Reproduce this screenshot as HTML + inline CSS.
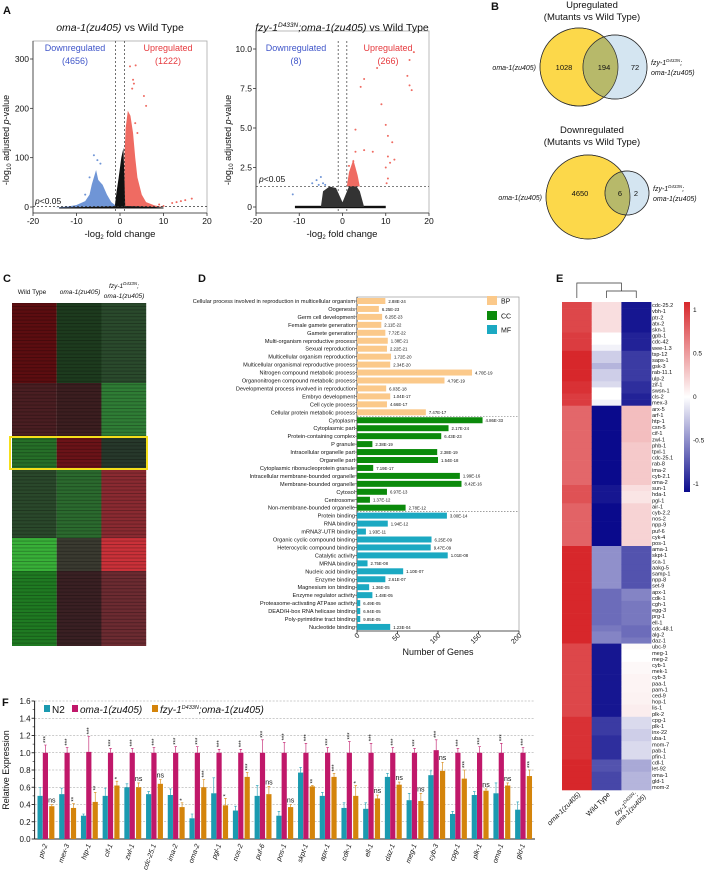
<!DOCTYPE html>
<html><head><meta charset="utf-8"><style>
html,body{margin:0;padding:0;background:#fff;}
svg{display:block;font-family:"Liberation Sans",sans-serif;}
.it{font-style:italic}
</style></head><body>
<svg id="fig" width="708" height="872" viewBox="0 0 708 872" xmlns="http://www.w3.org/2000/svg">
<g id="gA"></g>
<g id="gB"></g>
<g id="gC"></g>
<g id="gD"></g>
<g id="gE"></g>
<g id="gF"></g>
</svg>
<script>
// ---------- DATA ----------
const v1BlueCloud=[[-15,-1],[-12,1],[-10,4],[-8,12],[-7,25],[-6.5,45],[-6,60],[-5.5,75],[-5,55],[-4.5,50],[-4,45],[-3,25],[-2,10],[-1,3],[-1,-1]];
const v1BlackCloud=[[-14,-3],[-14,-1],[-8,0],[-1.2,1],[-0.8,30],[-0.3,60],[0.3,100],[0.8,120],[1,60],[1.2,2],[8,0],[10,-1],[10,-3]];
const v1RedCloud=[[1,0],[1,100],[1.3,160],[1.8,195],[2.4,185],[3,150],[3.5,100],[4,60],[5,25],[6,10],[8,3],[10,0]];
const v1RedPts=[[2.3,285],[3.6,287],[3,258],[3.2,250],[2.8,240],[5.5,225],[6,205],[4,150],[3.5,170],[12,8],[13,10],[14,12],[15,14],[16.5,17],[10,2],[9,5]];
const v1BluePts=[[-6,105],[-5.2,95],[-4.5,88],[-7,60],[-8,25]];
const v2BlackCloud=[[-5,0],[-4.5,1],[-3,1.3],[-1.5,1.2],[0,0.3],[1.5,1.3],[3,1.4],[4,1],[5,0]];
const v2RedCloud=[[1,1.3],[1.5,2.2],[2.5,3],[3.5,2],[4,1.3]];
const v2RedPts=[[3,4.9],[4.2,7.6],[5,8.1],[15.5,9.3],[16.5,9.8],[3,3.5],[5,3.6],[8,8.8],[9,6.5],[10,5.2],[10.5,4.5],[11.5,4.1],[10.5,3.2],[10,2.5],[11,2.8],[12,3],[7,3.5],[15,8.3],[16,7.4],[15.5,7.7],[10.5,1.8],[10.2,1.5],[1.5,2.6],[2.5,2.9],[2,2.3]];
const v2BluePts=[[-5,1.9],[-6,1.7],[-4.5,1.5],[-5.5,1.4],[-4,1.4],[-7,1.5],[-11.5,0.8]];
const v2BlackBand=[-11,10];

const goTerms=["Cellular process involved in reproduction in multicellular organism","Oogenesis","Germ cell development","Female gamete generation","Gamete generation","Multi-organism reproductive process","Sexual reproduction","Multicellular organism reproduction","Multicellular organismal reproductive process","Nitrogen compound metabolic process","Organonitrogen compound metabolic process","Developmental process involved in reproduction","Embryo development","Cell cycle process","Cellular protein metabolic process",
"Cytoplasm","Cytoplasmic part","Protein-containing complex","P granule","Intracellular organelle part","Organelle part","Cytoplasmic ribonucleoprotein granule","Intracellular membrane-bounded organelle","Membrane-bounded organelle","Cytosol","Centrosome","Non-membrane-bounded organelle",
"Protein binding","RNA binding","mRNA3'-UTR binding","Organic cyclic compound binding","Heterocyclic compound binding","Catalytic activity","MRNA binding","Nucleic acid binding","Enzyme binding","Magnesium ion binding","Enzyme regulator activity","Proteasome-activating ATPase activity","DEAD/H-box RNA helicase binding","Poly-pyrimidine tract binding","Nucleotide binding"];
const goCounts=[35,27,31,30,35,38,37,42,41,142,108,36,41,37,85, 155,113,104,19,99,100,20,127,129,37,16,60, 111,38,11,92,91,112,13,57,35,15,19,4,4,4,41];
const goCat=["BP","BP","BP","BP","BP","BP","BP","BP","BP","BP","BP","BP","BP","BP","BP","CC","CC","CC","CC","CC","CC","CC","CC","CC","CC","CC","CC","MF","MF","MF","MF","MF","MF","MF","MF","MF","MF","MF","MF","MF","MF","MF"];
const goP=["2.88E-24","6.25E-23","6.25E-23","2.11E-22","7.72E-22","1.38E-21","2.22E-21","1.72E-20","2.34E-20","4.70E-19","4.79E-19","6.03E-18","1.04E-17","4.66E-17","7.47E-17","4.86E-33","2.17E-24","6.43E-23","2.38E-19","2.38E-19","1.54E-18","7.19E-17","1.99E-16","8.42E-16","6.97E-13","1.37E-12","2.78E-12","3.00E-14","1.94E-12","1.93E-11","6.25E-09","9.47E-09","1.01E-08","2.75E-08","1.10E-07","2.61E-07","1.36E-05","1.48E-05","6.49E-05","6.94E-05","9.85E-05","1.23E-04"];
const goTicks=[0,50,100,150,200];

const eGenes=["cdc-25.2","vbh-1","ptr-2","atx-2","skn-1","gpb-1","cdc-42","wee-1.3","tsp-12","saps-1","gsk-3","rab-11.1","ulp-2","zif-1","swsn-1","cls-2","mex-3",
"arx-5","arf-1","htp-1","csn-5","cif-1","zwl-1","phb-1","tpxl-1","cdc-25.1","rab-8","ima-2","cyb-2.1","oma-2","sun-1","hda-1","pgl-1","air-1","cyb-2.2","nos-2","npp-9","puf-6","cyk-4","pos-1",
"ama-1","skpt-1","sca-1","aakg-5","samp-1","npp-8","set-9","apx-1","cdk-1","cgh-1","egg-3","prg-1","ell-1","cdc-48.1","alg-2","daz-1",
"ubc-9","meg-1","meg-2","cyb-1","mek-1","cyb-3","paa-1","pam-1","ced-9","hop-1","lis-1","plk-2",
"cpg-1","plk-1","inx-22","uba-1","mom-7","pab-1","pfin-1","cdl-1","let-92","oma-1","gld-1","mom-2"];
const eOma=[.85,.85,.85,.85,.85,.9,.9,.9,1,1,1,1,1,.95,.95,.9,.9,
.7,.7,.7,.7,.7,.7,.7,.7,.7,.7,.7,.7,.7,.8,.8,.8,.72,.72,.72,.72,.72,.72,.72,
1,1,1,1,1,1,1,1,1,1,1,1,1,1,1,1,
.85,.85,.85,.85,.85,.85,.85,.85,.85,.85,.85,.85,
.95,.95,.95,.95,.95,.95,.95,1,1,1,1,1];
const eWT=[.15,.15,.15,.15,.15,0,0,-.05,-.2,-.2,-.3,-.2,-.2,-.15,0,0,-.05,
-1,-1,-1,-1,-1,-1,-1,-1,-1,-1,-1,-1,-1,-.95,-.95,-.95,-1,-1,-1,-1,-1,-1,-1,
-.45,-.45,-.45,-.45,-.45,-.45,-.45,-.6,-.6,-.6,-.6,-.6,-.6,-.55,-.5,-.5,
-.95,-.95,-.95,-.95,-.95,-.95,-.95,-.95,-.95,-.95,-.95,-.95,
-.8,-.8,-.8,-.85,-.85,-.85,-.85,-.7,-.7,-.75,-.75,-.75];
const eFzy=[-.95,-.95,-.95,-.95,-.95,-.9,-.9,-.9,-.8,-.8,-.8,-.8,-.8,-.85,-.85,-.9,-.9,
.3,.3,.3,.3,.3,.3,.25,.25,.25,.25,.25,.25,.25,.15,.12,.12,.2,.2,.2,.2,.2,.2,.2,
-.7,-.7,-.7,-.7,-.7,-.7,-.7,-.5,-.5,-.55,-.55,-.55,-.55,-.6,-.6,-.55,
.02,0,0,.03,.03,.05,.05,.05,.06,.06,.08,.08,
-.15,-.15,-.2,-.2,-.15,-.15,-.15,-.35,-.35,-.3,-.3,-.3];
const eTicks=[1,0.5,0,-0.5,-1];

const fGenes=["ptr-2","mex-3","htp-1","cif-1","zwl-1","cdc-25.1","ima-2","oma-2","pgl-1","nos-2","puf-6","pos-1","skpt-1","apx-1","cdk-1","ell-1","daz-1","meg-1","cyb-3","cpg-1","plk-1","oma-1","gld-1"];
const fN2=[.50,.52,.27,.50,.60,.52,.51,.24,.53,.33,.50,.27,.77,.50,.36,.35,.72,.45,.74,.29,.51,.53,.34];
const fOma=[1,1,1.01,1,1,1,1,1,1,1,1,1,1,1,1,1,1,1,1.03,1,1,1,1];
const fFzy=[.38,.36,.43,.62,.60,.64,.37,.60,.39,.72,.52,.37,.61,.72,.50,.47,.63,.44,.79,.70,.56,.62,.73];
const fN2Err=[.1,.07,.02,.09,.04,.03,.07,.05,.18,.05,.12,.05,.06,.04,.06,.07,.04,.08,.05,.03,.04,.12,.09];
const fOmaErr=[.09,.06,.18,.05,.05,.06,.07,.07,.04,.04,.15,.12,.11,.06,.13,.11,.06,.05,.12,.05,.07,.11,.06];
const fFzyErr=[.02,.05,.11,.05,.05,.05,.05,.09,.08,.05,.09,.03,.01,.04,.12,.04,.03,.09,.1,.1,.02,.03,.07];
const fSig=["ns","**","**","*","ns","ns","*","***","*","***","ns","ns","**","***","*","ns","ns","ns","ns","***","ns","ns","***"];
const fTicks=[0,0.2,0.4,0.6,0.8,1.0,1.2,1.4,1.6];

// ---------- HELPERS ----------
const NS="http://www.w3.org/2000/svg";
function mk(parent,tag,attrs,text){const e=document.createElementNS(NS,tag);for(const k in attrs)e.setAttribute(k,attrs[k]);if(text!==undefined)e.textContent=text;parent.appendChild(e);return e;}
const gA=document.getElementById('gA'),gB=document.getElementById('gB'),gC=document.getElementById('gC'),gD=document.getElementById('gD'),gE=document.getElementById('gE'),gF=document.getElementById('gF');
function label(g,x,y,txt,size,opts){opts=opts||{};const t=mk(g,'text',Object.assign({x:x,y:y,'font-size':size,fill:opts.fill||'#111','text-anchor':opts.anchor||'start'},opts.attrs||{}));t.innerHTML=txt;

return t;}

// ---------- PANEL A ----------
label(gA,3,14,'A',11,{attrs:{'font-weight':'bold'},name:'panel-a-letter'});
function volcano(g,x0,x1,yBase,yTop,yMax,yTicks,yTickFmt,name){
  const sx=v=>x0+(v+20)/40*(x1-x0);
  const sy=v=>yBase-v/yMax*(yBase-yTop);
  mk(g,'rect',{x:x0,y:yTop-18,width:x1-x0,height:yBase-yTop+24,fill:'none',stroke:'#aaa','stroke-width':0.8});
  const ax=mk(g,'line',{x1:x0,y1:yBase+6,x2:x1,y2:yBase+6,stroke:'#333','stroke-width':0.8});
  
  
  mk(g,'line',{x1:x0,y1:yTop-18,x2:x0,y2:yBase+6,stroke:'#333','stroke-width':0.8});
  [-20,-10,0,10,20].forEach(t=>{mk(g,'line',{x1:sx(t),y1:yBase+6,x2:sx(t),y2:yBase+9,stroke:'#333','stroke-width':0.8});
    label(g,sx(t),yBase+17,String(t),8.5,{anchor:'middle',name:name+'-x-tick'});});
  yTicks.forEach(t=>{mk(g,'line',{x1:x0-3,y1:sy(t),x2:x0,y2:sy(t),stroke:'#333','stroke-width':0.8});
    label(g,x0-4,sy(t)+3,yTickFmt(t),8.5,{anchor:'end',name:name+'-y-tick'});});
  return {sx,sy};
}
function poly(g,pts,sx,sy,fill,name){const p=mk(g,'polygon',{points:pts.map(p=>sx(p[0])+','+sy(p[1])).join(' '),fill:fill});
  
  }
function dots(g,pts,sx,sy,fill,name){pts.forEach(p=>{const c=mk(g,'circle',{cx:sx(p[0]),cy:sy(p[1]),r:1,fill:fill});
  
  });}
{const s=volcano(gA,33,207,207,59,300,[0,100,200,300],t=>String(t),'volcano-1');
 poly(gA,v1BlueCloud,s.sx,s.sy,'#6f95d6','volcano-1-down-cloud');
 poly(gA,v1RedCloud,s.sx,s.sy,'#ef6b62','volcano-1-up-cloud');
 poly(gA,v1BlackCloud,s.sx,s.sy,'#111','volcano-1-ns-cloud');
 dots(gA,v1RedPts,s.sx,s.sy,'#ef6b62','volcano-1-up-point');
 dots(gA,v1BluePts,s.sx,s.sy,'#6f95d6','volcano-1-down-point');
 mk(gA,'line',{x1:33,y1:s.sy(1.3),x2:207,y2:s.sy(1.3),stroke:'#333','stroke-dasharray':'2,2','stroke-width':0.7});
 [-1,1].forEach(v=>mk(gA,'line',{x1:s.sx(v),y1:41,x2:s.sx(v),y2:213,stroke:'#333','stroke-dasharray':'2,2','stroke-width':0.7}));
 label(gA,120,31,'<tspan font-style="italic">oma-1(zu405)</tspan> vs Wild Type',10.5,{anchor:'middle',name:'volcano-1-title'});
 label(gA,75,51,'Downregulated',9,{anchor:'middle',fill:'#3f55c9',name:'volcano-1-down-label'});
 label(gA,75,64,'(4656)',9,{anchor:'middle',fill:'#3f55c9',name:'volcano-1-down-count'});
 label(gA,168,51,'Upregulated',9,{anchor:'middle',fill:'#e63a3e',name:'volcano-1-up-label'});
 label(gA,168,64,'(1222)',9,{anchor:'middle',fill:'#e63a3e',name:'volcano-1-up-count'});
 label(gA,35,204,'<tspan font-style="italic">p</tspan>&lt;0.05',8.5,{name:'volcano-1-threshold-label'});
 label(gA,120,237,'-log<tspan font-size="6" dy="2">2</tspan><tspan dy="-2"> fold change</tspan>',9.5,{anchor:'middle',name:'volcano-1-x-title'});
 label(gA,0,0,'-log<tspan font-size="6" dy="2">10</tspan><tspan dy="-2"> adjusted </tspan><tspan font-style="italic">p</tspan>-value',9,{anchor:'middle',name:'volcano-1-y-title',attrs:{transform:'translate(9,140) rotate(-90)'}});
}
{const s=volcano(gA,256,429,207,49,10,[0,2.5,5,7.5,10],t=>t===0?'0':t.toFixed(1),'volcano-2');
 mk(gA,'rect',{x:s.sx(v2BlackBand[0]),y:s.sy(0)-1.2,width:s.sx(v2BlackBand[1])-s.sx(v2BlackBand[0]),height:2.4,fill:'#111'});
 poly(gA,v2BlackCloud,s.sx,s.sy,'#333','volcano-2-ns-cloud');
 poly(gA,v2RedCloud,s.sx,s.sy,'#ef6b62','volcano-2-up-cloud');
 dots(gA,v2RedPts,s.sx,s.sy,'#ef6b62','volcano-2-up-point');
 dots(gA,v2BluePts,s.sx,s.sy,'#6f95d6','volcano-2-down-point');
 mk(gA,'line',{x1:256,y1:s.sy(1.3),x2:429,y2:s.sy(1.3),stroke:'#333','stroke-dasharray':'2,2','stroke-width':0.7});
 [-1,1].forEach(v=>mk(gA,'line',{x1:s.sx(v),y1:41,x2:s.sx(v),y2:213,stroke:'#333','stroke-dasharray':'2,2','stroke-width':0.7}));
 label(gA,342,31,'<tspan font-style="italic">fzy-1<tspan font-size="6.5" dy="-4">D433N</tspan><tspan dy="4">;oma-1(zu405)</tspan></tspan> vs Wild Type',10.5,{anchor:'middle',name:'volcano-2-title'});
 label(gA,296,51,'Downregulated',9,{anchor:'middle',fill:'#3f55c9',name:'volcano-2-down-label'});
 label(gA,296,64,'(8)',9,{anchor:'middle',fill:'#3f55c9',name:'volcano-2-down-count'});
 label(gA,388,51,'Upregulated',9,{anchor:'middle',fill:'#e63a3e',name:'volcano-2-up-label'});
 label(gA,388,64,'(266)',9,{anchor:'middle',fill:'#e63a3e',name:'volcano-2-up-count'});
 label(gA,259,182,'<tspan font-style="italic">p</tspan>&lt;0.05',8.5,{name:'volcano-2-threshold-label'});
 label(gA,342,237,'-log<tspan font-size="6" dy="2">2</tspan><tspan dy="-2"> fold change</tspan>',9.5,{anchor:'middle',name:'volcano-2-x-title'});
 label(gA,0,0,'-log<tspan font-size="6" dy="2">10</tspan><tspan dy="-2"> adjusted </tspan><tspan font-style="italic">p</tspan>-value',9,{anchor:'middle',name:'volcano-2-y-title',attrs:{transform:'translate(231,140) rotate(-90)'}});
}

// ---------- PANEL B ----------
label(gB,491,10,'B',11,{attrs:{'font-weight':'bold'},name:'panel-b-letter'});
function venn(cy,yc,yr,bc,br,bcy,tTitle,tY,nums,numXs){
  label(gB,592,tY,tTitle,9.5,{anchor:'middle',name:'venn-title'});
  label(gB,592,tY+12,'(Mutants vs Wild Type)',9.5,{anchor:'middle',name:'venn-subtitle'});
  mk(gB,'circle',{cx:yc,cy:cy,r:yr,fill:'#fcd84a',stroke:'#333','stroke-width':0.7});
  mk(gB,'circle',{cx:bc,cy:bcy,r:br,fill:'#c6dcec','fill-opacity':0.75,stroke:'#333','stroke-width':0.7});
  const cp=mk(gB,'clipPath',{id:'cp'+cy});mk(cp,'circle',{cx:yc,cy:cy,r:yr});
  mk(gB,'circle',{cx:bc,cy:bcy,r:br,fill:'#b7b96a','clip-path':'url(#cp'+cy+')'});
  mk(gB,'circle',{cx:bc,cy:bcy,r:br,fill:'none',stroke:'#333','stroke-width':0.7});
  mk(gB,'circle',{cx:yc,cy:cy,r:yr,fill:'none',stroke:'#333','stroke-width':0.7});
  nums.forEach((n,i)=>label(gB,numXs[i],bcy+3,n,7.5,{anchor:'middle',name:'venn-count'}));
  label(gB,yc-yr-4,cy+3,'oma-1(zu405)',7,{anchor:'end',name:'venn-oma-label',attrs:{'font-style':'italic'}});
  label(gB,bc+br+4,bcy-2,'fzy-1<tspan font-size="4.5" dy="-3">D433N</tspan><tspan dy="3">;</tspan>',7,{name:'venn-fzy-label',attrs:{'font-style':'italic'}});
  label(gB,bc+br+4,bcy+8,'oma-1(zu405)',7,{name:'venn-fzy-label-2',attrs:{'font-style':'italic'}});
}
venn(67,579,39,615,32,67,'Upregulated',8,['1028','194','72'],[564,604,635]);
venn(197,588,42,627,22,193,'Downregulated',133,['4650','6','2'],[580,620,636]);

// ---------- PANEL C ----------
label(gC,3,282,'C',11,{attrs:{'font-weight':'bold'},name:'panel-c-letter'});
label(gC,32,294,'Wild Type',6.5,{anchor:'middle',name:'heatmap-c-col-wt'});
label(gC,80,294,'oma-1(zu405)',6.5,{anchor:'middle',name:'heatmap-c-col-oma',attrs:{'font-style':'italic'}});
label(gC,124,288,'fzy-1<tspan font-size="4.5" dy="-3">D433N</tspan><tspan dy="3">;</tspan>',6.5,{anchor:'middle',name:'heatmap-c-col-fzy',attrs:{'font-style':'italic'}});
label(gC,124,298,'oma-1(zu405)',6.5,{anchor:'middle',name:'heatmap-c-col-fzy-2',attrs:{'font-style':'italic'}});
const cBlocks=[[303,383,['#5c0d10','#1d3b1e','#2a4a2c']],[383,436,['#4a1e22','#3c1e20','#2f7d35']],[436,469,['#266f28','#6b1318','#27382b']],[469,538,['#2a482b','#2b6a2e','#8a2a31']],[538,571,['#38b038','#3a3a30','#ca3139']],[571,646,['#1f7a22','#3a2023','#6c2b31']]];
const defsC=mk(gC,'defs',{});
const pat=mk(defsC,'pattern',{id:'stripe',width:4,height:3.4,patternUnits:'userSpaceOnUse'});
mk(pat,'rect',{x:0,y:0,width:4,height:1,fill:'#000','fill-opacity':0.25});
cBlocks.forEach(b=>{b[2].forEach((c,i)=>{const r=mk(gC,'rect',{x:12+i*44.7,y:b[0],width:44.8,height:b[1]-b[0],fill:c});
 
 
 mk(gC,'rect',{x:12+i*44.7,y:b[0],width:44.8,height:b[1]-b[0],fill:'url(#stripe)'});});});
mk(gC,'rect',{x:10,y:437,width:137,height:32,fill:'none',stroke:'#f5df1a','stroke-width':2});

// ---------- PANEL D ----------
label(gD,198,282,'D',11,{attrs:{'font-weight':'bold'},name:'panel-d-letter'});
{const x0=357,x1=519,yT=297,yB=631,row0=301,rowH=7.95;
 const sx=v=>x0+v/200*(x1-x0);const sy=i=>row0+i*rowH;
 const col={BP:'#fbc98a',CC:'#0b8a0b',MF:'#1ba9c2'};
 mk(gD,'rect',{x:x0,y:yT,width:x1-x0,height:yB-yT,fill:'none',stroke:'#999','stroke-width':0.7});
 mk(gD,'line',{x1:x0,y1:yT,x2:x0,y2:yB,stroke:'#333','stroke-width':0.8});
 mk(gD,'line',{x1:x0,y1:yB,x2:x1,y2:yB,stroke:'#333','stroke-width':0.8});
 goTerms.forEach((t,i)=>{
   const b=mk(gD,'rect',{x:x0,y:sy(i)-3,width:sx(goCounts[i])-x0,height:6,fill:col[goCat[i]]});
   
   
   mk(gD,'line',{x1:x0-2,y1:sy(i),x2:x0,y2:sy(i),stroke:'#333','stroke-width':0.5});
   label(gD,x0-2,sy(i)+2,t,5.6,{anchor:'end',name:'go-term-label'});
   label(gD,sx(goCounts[i])+3,sy(i)+1.8,goP[i],4.3,{name:'go-pvalue-label'});
   if(i>0&&goCat[i]!==goCat[i-1])mk(gD,'line',{x1:x0,y1:sy(i)-4,x2:x1,y2:sy(i)-4,stroke:'#666','stroke-dasharray':'1.5,1.5','stroke-width':0.6});
 });
 goTicks.forEach(t=>{mk(gD,'line',{x1:sx(t),y1:yB,x2:sx(t),y2:yB+3,stroke:'#333','stroke-width':0.8});
   label(gD,0,0,String(t),7,{anchor:'end',name:'go-x-tick',attrs:{transform:`translate(${sx(t)+3},${yB+5}) rotate(-45)`}});});
 label(gD,(x0+x1)/2,655,'Number of Genes',9,{anchor:'middle',name:'go-x-title'});
 [['BP',301],['CC',316],['MF',330]].forEach(l=>{mk(gD,'rect',{x:487,y:l[1]-5,width:10,height:9,fill:col[l[0]]});
   label(gD,501,l[1]+2.5,l[0],7,{name:'go-legend-'+l[0].toLowerCase()});});
}

// ---------- PANEL E ----------
label(gE,556,282,'E',11,{attrs:{'font-weight':'bold'},name:'panel-e-letter'});
function heatCol(v){v=Math.max(-1,Math.min(1,v));let r,g,b;
 if(v>=0){r=255+(215-255)*v;g=255+(39-255)*v;b=255+(43-255)*v;}else{const a=-v;r=255+(10-255)*a;g=255+(10-255)*a;b=255+(140-255)*a;}
 return `rgb(${r|0},${g|0},${b|0})`;}
{const x0=562,cw=29.7,yT=302,rh=(790-302)/eGenes.length;
 const cols=[eOma,eWT,eFzy];
 cols.forEach((arr,c)=>arr.forEach((v,i)=>{const r=mk(gE,'rect',{x:x0+c*cw,y:yT+i*rh,width:cw+0.3,height:rh+0.3,fill:heatCol(v)});
   
   }));
 eGenes.forEach((g,i)=>label(gE,x0+3*cw+1,yT+i*rh+rh-1,g,5.5,{name:'heatmap-e-gene-label'}));
 const cx=c=>x0+c*cw+cw/2;
 mk(gE,'path',{d:`M${cx(1)},${yT-4}V291H${cx(2)}V${yT-4}`,fill:'none',stroke:'#333','stroke-width':0.7});
 mk(gE,'path',{d:`M${cx(0)},${yT-4}V283H${(cx(1)+cx(2))/2}V291`,fill:'none',stroke:'#333','stroke-width':0.7});
 label(gE,0,0,'oma-1(zu405)',7,{anchor:'end',name:'heatmap-e-col-oma',attrs:{'font-style':'italic',transform:`translate(${cx(0)+4},795) rotate(-45)`}});
 label(gE,0,0,'Wild Type',7,{anchor:'end',name:'heatmap-e-col-wt',attrs:{transform:`translate(${cx(1)+4},795) rotate(-45)`}});
 label(gE,0,0,'fzy-1<tspan font-size="4.5" dy="-3">D433N</tspan><tspan dy="3">;</tspan>',6.5,{anchor:'end',name:'heatmap-e-col-fzy',attrs:{'font-style':'italic',transform:`translate(${cx(2)+2},795) rotate(-45)`}});
 label(gE,0,0,'oma-1(zu405)',6.5,{anchor:'end',name:'heatmap-e-col-fzy-2',attrs:{'font-style':'italic',transform:`translate(${cx(2)+10},797) rotate(-45)`}});
 const defs=mk(gE,'defs',{});const lg=mk(defs,'linearGradient',{id:'cb',x1:0,y1:0,x2:0,y2:1});
 [[0,1],[0.5,0],[1,-1]].forEach(s=>mk(lg,'stop',{offset:s[0],'stop-color':heatCol(s[1])}));
 const cbT=302,cbB=492;const cy=v=>cbT+8+(1-v)/2*(cbB-cbT-16);
 const cb=mk(gE,'rect',{x:684,y:cbT,width:6,height:cbB-cbT,fill:'url(#cb)'});
 
 
 eTicks.forEach(t=>label(gE,693,cy(t)+2,String(t),6.5,{name:'colorbar-tick'}));
}

// ---------- PANEL F ----------
label(gF,2,706,'F',11,{attrs:{'font-weight':'bold'},name:'panel-f-letter'});
{const x0=34.6,x1=535,y0=839,yTop=701;const sy=v=>y0-v/1.6*(y0-yTop);
 const gw=21.71;const gx=i=>x0+i*gw;
 const C=['#1b9ab0','#c0186a','#d4840b'];
 fTicks.forEach(t=>{if(t>0)mk(gF,'line',{x1:x0,y1:sy(t),x2:x1,y2:sy(t),stroke:'#999','stroke-dasharray':'2,1.5','stroke-width':0.6});
   mk(gF,'line',{x1:x0-3,y1:sy(t),x2:x0,y2:sy(t),stroke:'#222','stroke-width':0.9});
   label(gF,x0-4,sy(t)+3,t.toFixed(1),8,{anchor:'end',name:'f-y-tick'});});
 for(let t=0.1;t<1.6;t+=0.2)mk(gF,'line',{x1:x0-2,y1:sy(t),x2:x0,y2:sy(t),stroke:'#222','stroke-width':0.6});
 mk(gF,'line',{x1:x0,y1:yTop,x2:x0,y2:y0,stroke:'#222','stroke-width':1});
 mk(gF,'line',{x1:x0,y1:y0,x2:x1,y2:y0,stroke:'#222','stroke-width':1});
 label(gF,0,0,'Relative Expression',9,{anchor:'middle',name:'f-y-title',attrs:{transform:`translate(9,770) rotate(-90)`}});
 const series=[[fN2,fN2Err],[fOma,fOmaErr],[fFzy,fFzyErr]];const offs=[5.5,10.8,17.2];
 fGenes.forEach((g,i)=>{
   series.forEach((s,k)=>{const v=s[0][i],e=s[1][i],cx=gx(i)+offs[k];
     const b=mk(gF,'rect',{x:cx-2.6,y:sy(v),width:5.2,height:y0-sy(v),fill:C[k]});
     
     
     mk(gF,'path',{d:`M${cx},${sy(v)}V${sy(v+e)}M${cx-1.3},${sy(v+e)}H${cx+1.3}`,stroke:C[k],'stroke-width':0.6,fill:'none'});});
   label(gF,0,0,'***',6,{anchor:'start',name:'f-sig-oma',attrs:{transform:`translate(${gx(i)+12.8},${sy(fOma[i]+fOmaErr[i])-2}) rotate(-90)`}});
   const s=fSig[i],ty=sy(fFzy[i]+fFzyErr[i])-2;
   if(s==='ns')label(gF,gx(i)+17.2,ty,'ns',7,{anchor:'middle',name:'f-sig-fzy'});
   else label(gF,0,0,s,6,{name:'f-sig-fzy',attrs:{transform:`translate(${gx(i)+19.3},${ty}) rotate(-90)`}});
   label(gF,0,0,g,7,{anchor:'end',name:'f-x-label',attrs:{'font-style':'italic',transform:`translate(${gx(i)+13},845) rotate(-70)`}});
 });
 [['N2',44],['<tspan font-style="italic">oma-1(zu405)</tspan>',72],['<tspan font-style="italic">fzy-1<tspan font-size="5.5" dy="-4">D433N</tspan><tspan dy="4">;oma-1(zu405)</tspan></tspan>',152]].forEach((l,k)=>{
   mk(gF,'rect',{x:l[1],y:705,width:6,height:7,fill:C[k]});
   label(gF,l[1]+8,713,l[0],10,{name:'f-legend-entry'});});
}
</script>
</body></html>
